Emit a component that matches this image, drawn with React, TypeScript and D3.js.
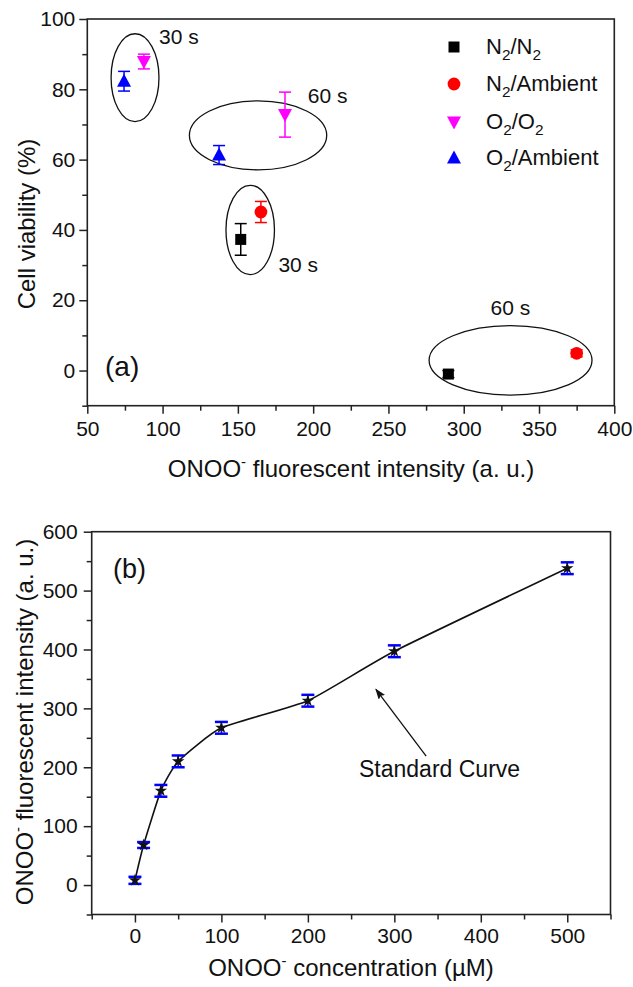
import React, { useRef, useEffect } from "react";
import * as d3 from "d3";

const FONT = "'Liberation Sans', Arial, Helvetica, sans-serif";
const W = 633;
const H = 987;

// ---- panel (a): cell viability vs ONOO- intensity ----
const seriesLabels = ["N_2/N_2", "N_2/Ambient", "O_2/O_2", "O_2/Ambient"];
const seriesColors = ["#000000", "#ff0000", "#ff00ff", "#0000ff"];
const seriesShapes = ["square", "circle", "triangleDown", "triangleUp"];
// [30 s, 60 s] for each series
const intensityA = [
  [151.9, 289.8],
  [165.3, 375.0],
  [87.6, 181.3],
  [74.4, 137.5]
];
const viability = [
  [37.3, -1.0],
  [45.1, 4.9],
  [87.9, 72.8],
  [82.3, 61.3]
];
const viabilityErr = [
  [4.5, 1.0],
  [3.0, 1.0],
  [2.1, 6.4],
  [2.8, 2.7]
];

// grouping ellipses (data units) and their labels
const groupCx = [81.7, 163.4, 158.2, 331.1];
const groupCy = [83.3, 66.9, 40.0, 2.9];
const groupRx = [15.9, 45.6, 16.1, 54.1];
const groupRy = [12.5, 9.8, 12.7, 9.9];
const groupLabels = ["30 s", "60 s", "30 s", "60 s"];
const groupLabelX = [97.7, 196.4, 176.9, 317.8];
const groupLabelY = [92.9, 76.1, 28.0, 15.9];

const xTicksA = [50, 100, 150, 200, 250, 300, 350, 400];
const xMinorA = [75, 125, 175, 225, 275, 325, 375];
const yTicksA = [0, 20, 40, 60, 80, 100];
const yMinorA = [-10, 10, 30, 50, 70, 90];

// ---- panel (b): standard curve ----
const concentration = [0, 10, 30, 50, 100, 200, 300, 500];
const intensityB = [8, 68, 160, 210, 267, 313, 397, 538];
const intensityErr = [6, 5, 10, 10, 10, 10, 10, 10];
const arrowFrom = [336.8, 219];
const arrowTo = [278.7, 332.3];

const xTicksB = [0, 100, 200, 300, 400, 500];
const xMinorB = [-50, 50, 150, 250, 350, 450, 550];
const yTicksB = [0, 100, 200, 300, 400, 500, 600];
const yMinorB = [-50, 50, 150, 250, 350, 450, 550];

const markerPath = (shape) => {
  if (shape === "square") return d3.symbol(d3.symbolSquare, 121)();
  if (shape === "circle") return d3.symbol(d3.symbolCircle, 128)();
  if (shape === "triangleUp") return "M0,-7.5L7,5.5L-7,5.5Z";
  return "M0,7.5L7,-5.5L-7,-5.5Z";
};

// "N_2/N_2" -> N with subscript 2
const addSubText = (text, label, fs) => {
  const parts = label.split(/_(\d)/);
  let low = false;
  parts.forEach((p, i) => {
    if (!p) return;
    const sub = i % 2 === 1;
    const t = text.append("tspan").text(p);
    if (sub) {
      t.attr("font-size", fs * 0.7).attr("dy", low ? 0 : 6);
      low = true;
    } else {
      t.attr("dy", low ? -6 : 0);
      low = false;
    }
  });
};

// ONOO with a superscript minus
const addOnooText = (text, rest) => {
  text.append("tspan").text("ONOO");
  text.append("tspan").attr("font-size", 15).attr("dy", -10).text("-");
  text.append("tspan").attr("dy", 10).text(rest);
};

const drawFrame = (g, x, y, opt) => {
  const [x0, x1] = x.range();
  const [y0, y1] = y.range();

  const xMinor = g
    .append("g")
    .attr("transform", `translate(0,${y0})`)
    .call(d3.axisBottom(x).tickValues(opt.xMinor).tickSize(5).tickFormat(() => ""));
  const xMajor = g
    .append("g")
    .attr("transform", `translate(0,${y0})`)
    .call(d3.axisBottom(x).tickValues(opt.xTicks).tickSize(8).tickPadding(opt.xPad));
  const yMinor = g
    .append("g")
    .attr("transform", `translate(${x0},0)`)
    .call(d3.axisLeft(y).tickValues(opt.yMinor).tickSize(5).tickFormat(() => ""));
  const yMajor = g
    .append("g")
    .attr("transform", `translate(${x0},0)`)
    .call(d3.axisLeft(y).tickValues(opt.yTicks).tickSize(8).tickPadding(opt.yPad));

  [xMinor, xMajor, yMinor, yMajor].forEach((a) => {
    a.select(".domain").remove();
    a.selectAll("line").attr("stroke", "#222").attr("stroke-width", 1.5);
    a.selectAll("text")
      .attr("font-family", FONT)
      .attr("font-size", 21)
      .attr("fill", "#111");
  });

  g.append("rect")
    .attr("x", x0)
    .attr("y", y1)
    .attr("width", x1 - x0)
    .attr("height", y0 - y1)
    .attr("fill", "none")
    .attr("stroke", "#222")
    .attr("stroke-width", 1.6);
};

const drawPanelA = (g) => {
  const x = d3.scaleLinear().domain([50, 400]).range([87.3, 614.3]);
  const y = d3.scaleLinear().domain([-10, 100]).range([405.7, 19]);

  drawFrame(g, x, y, {
    xTicks: xTicksA,
    xMinor: xMinorA,
    yTicks: yTicksA,
    yMinor: yMinorA,
    xPad: 7,
    yPad: 4
  });

  // ellipses around time groups
  groupCx.forEach((cx, i) => {
    g.append("ellipse")
      .attr("cx", x(cx))
      .attr("cy", y(groupCy[i]))
      .attr("rx", x(cx + groupRx[i]) - x(cx))
      .attr("ry", y(groupCy[i] - groupRy[i]) - y(groupCy[i]))
      .attr("fill", "none")
      .attr("stroke", "#111")
      .attr("stroke-width", 1.3);
    g.append("text")
      .attr("x", x(groupLabelX[i]))
      .attr("y", y(groupLabelY[i]))
      .attr("font-family", FONT)
      .attr("font-size", 21)
      .attr("fill", "#111")
      .text(groupLabels[i]);
  });

  // error bars + markers
  seriesLabels.forEach((_, s) => {
    const color = seriesColors[s];
    intensityA[s].forEach((xv, k) => {
      const yv = viability[s][k];
      const e = viabilityErr[s][k];
      const px = x(xv);
      const eb = g.append("g").attr("stroke", color).attr("stroke-width", 1.5);
      eb.append("line").attr("x1", px).attr("x2", px).attr("y1", y(yv + e)).attr("y2", y(yv - e));
      [yv + e, yv - e].forEach((v) =>
        eb.append("line").attr("x1", px - 6).attr("x2", px + 6).attr("y1", y(v)).attr("y2", y(v))
      );
      g.append("path")
        .attr("d", markerPath(seriesShapes[s]))
        .attr("transform", `translate(${px},${y(yv)})`)
        .attr("fill", color);
    });
  });

  // legend
  const legY = [47, 84, 122, 158];
  seriesLabels.forEach((label, s) => {
    g.append("path")
      .attr("d", markerPath(seriesShapes[s]))
      .attr("transform", `translate(454,${legY[s]})`)
      .attr("fill", seriesColors[s]);
    const t = g
      .append("text")
      .attr("x", 486)
      .attr("y", legY[s] + 7)
      .attr("font-family", FONT)
      .attr("font-size", 22)
      .attr("fill", "#111");
    addSubText(t, label, 22);
  });

  g.append("text")
    .attr("x", 105)
    .attr("y", 376)
    .attr("font-family", FONT)
    .attr("font-size", 28)
    .attr("fill", "#111")
    .text("(a)");

  g.append("text")
    .attr("transform", "translate(35,224) rotate(-90)")
    .attr("text-anchor", "middle")
    .attr("font-family", FONT)
    .attr("font-size", 24)
    .attr("fill", "#111")
    .text("Cell viability (%)");

  const xt = g
    .append("text")
    .attr("x", 351)
    .attr("y", 477)
    .attr("text-anchor", "middle")
    .attr("font-family", FONT)
    .attr("font-size", 24)
    .attr("fill", "#111");
  addOnooText(xt, " fluorescent intensity (a. u.)");
};

const drawPanelB = (g) => {
  const x = d3.scaleLinear().domain([-50, 550]).range([91.7, 610.5]);
  const y = d3.scaleLinear().domain([-50, 600]).range([914.5, 531.7]);

  drawFrame(g, x, y, {
    xTicks: xTicksB,
    xMinor: xMinorB,
    yTicks: yTicksB,
    yMinor: yMinorB,
    xPad: 6,
    yPad: 6
  });

  const pts = concentration.map((c, i) => [c, intensityB[i]]);
  const line = d3
    .line()
    .x((d) => x(d[0]))
    .y((d) => y(d[1]))
    .curve(d3.curveCardinal.tension(0.5));

  g.append("path")
    .attr("d", line(pts))
    .attr("fill", "none")
    .attr("stroke", "#111")
    .attr("stroke-width", 1.6);

  pts.forEach(([c, v], i) => {
    const e = intensityErr[i];
    const px = x(c);
    const eb = g.append("g").attr("stroke", "#0000ff");
    eb.append("line")
      .attr("x1", px)
      .attr("x2", px)
      .attr("y1", y(v + e))
      .attr("y2", y(v - e))
      .attr("stroke-width", 1.5);
    [v + e, v - e].forEach((yy) =>
      eb.append("line")
        .attr("x1", px - 6.5)
        .attr("x2", px + 6.5)
        .attr("y1", y(yy))
        .attr("y2", y(yy))
        .attr("stroke-width", 2.5)
    );
    g.append("path")
      .attr("d", d3.symbol(d3.symbolStar, 48)())
      .attr("transform", `translate(${px},${y(v)})`)
      .attr("fill", "#111");
  });

  // arrow pointing at the curve
  const defs = g.append("defs");
  defs
    .append("marker")
    .attr("id", "arrowHead")
    .attr("markerUnits", "userSpaceOnUse")
    .attr("markerWidth", 12)
    .attr("markerHeight", 10)
    .attr("refX", 10)
    .attr("refY", 4)
    .attr("orient", "auto")
    .append("path")
    .attr("d", "M0,0L11,4L0,8L2,4Z")
    .attr("fill", "#111");

  g.append("line")
    .attr("x1", x(arrowFrom[0]))
    .attr("y1", y(arrowFrom[1]))
    .attr("x2", x(arrowTo[0]))
    .attr("y2", y(arrowTo[1]))
    .attr("stroke", "#111")
    .attr("stroke-width", 1.3)
    .attr("marker-end", "url(#arrowHead)");

  g.append("text")
    .attr("x", 359)
    .attr("y", 777)
    .attr("font-family", FONT)
    .attr("font-size", 23)
    .attr("fill", "#111")
    .text("Standard Curve");

  g.append("text")
    .attr("x", 113)
    .attr("y", 578)
    .attr("font-family", FONT)
    .attr("font-size", 27)
    .attr("fill", "#111")
    .text("(b)");

  const yt = g
    .append("text")
    .attr("transform", "translate(33,722) rotate(-90)")
    .attr("text-anchor", "middle")
    .attr("font-family", FONT)
    .attr("font-size", 24)
    .attr("fill", "#111");
  addOnooText(yt, " fluorescent intensity (a. u.)");

  const xt = g
    .append("text")
    .attr("x", 351)
    .attr("y", 976)
    .attr("text-anchor", "middle")
    .attr("font-family", FONT)
    .attr("font-size", 24)
    .attr("fill", "#111");
  addOnooText(xt, " concentration (\u00b5M)");
};

const App = () => {
  const svgRef = useRef(null);

  useEffect(() => {
    const svg = d3.select(svgRef.current);
    svg.selectAll("*").remove();
    drawPanelA(svg.append("g").attr("class", "panel-a"));
    drawPanelB(svg.append("g").attr("class", "panel-b"));
  }, []);

  return (
    <svg
      ref={svgRef}
      width={W}
      height={H}
      style={{ position: "absolute", left: 0, top: 0, background: "#fff" }}
      xmlns="http://www.w3.org/2000/svg"
    />
  );
};

export default App;
